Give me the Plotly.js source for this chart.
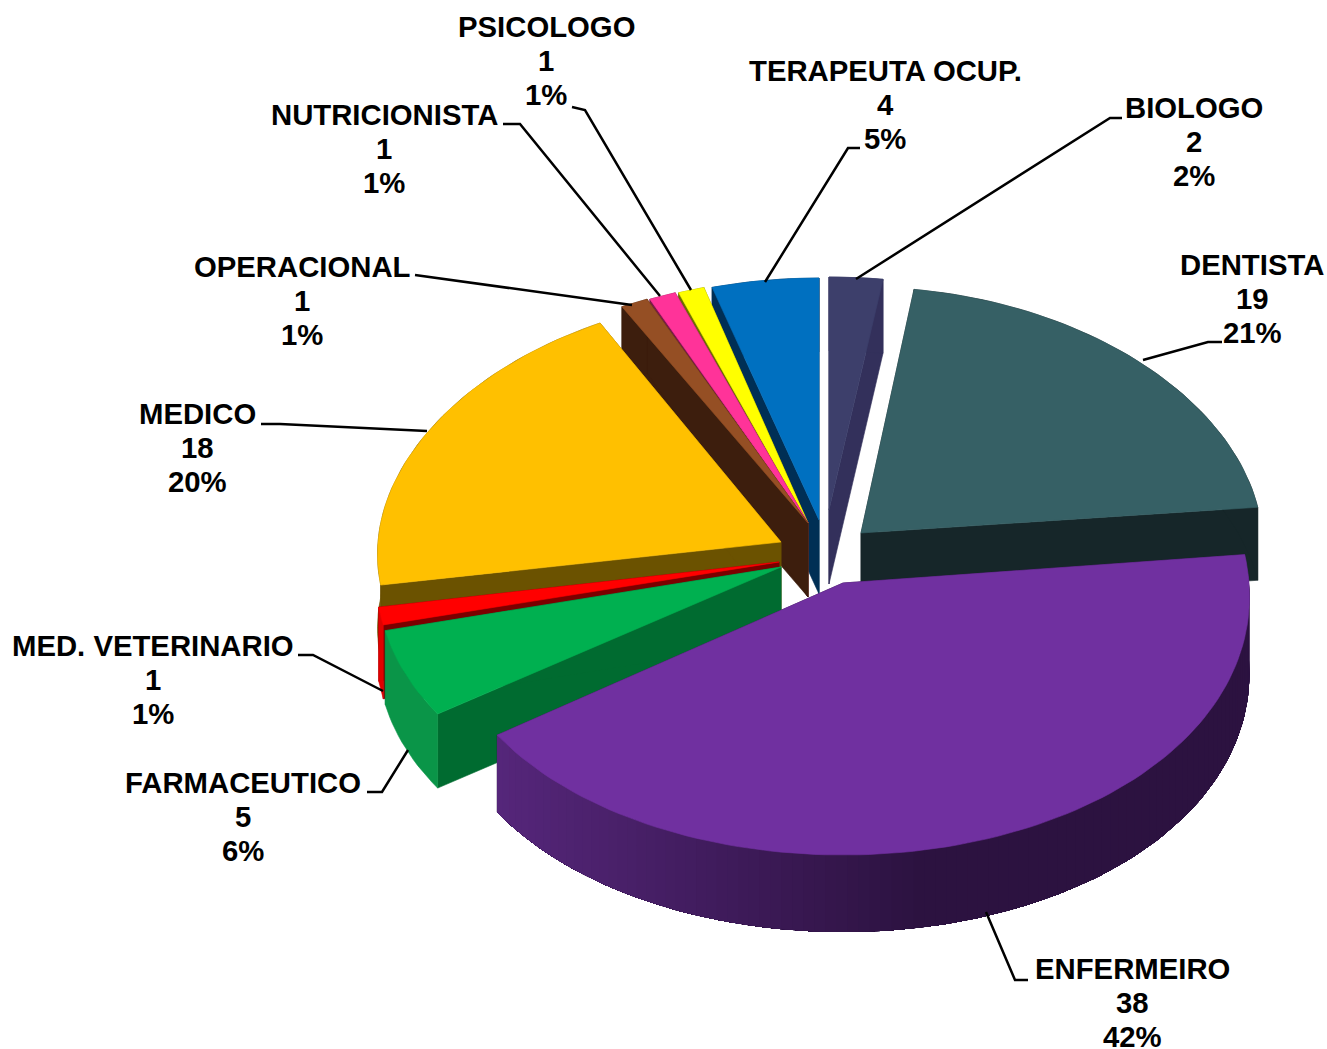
<!DOCTYPE html>
<html>
<head>
<meta charset="utf-8">
<script src="https://cdn.plot.ly/plotly-3.0.1.min.js"></script>
<style>html,body{margin:0;padding:0;background:#fff}</style>
</head>
<body>
<div id="chart" style="width:1327px;height:1049px"></div>
<script>
// ---- data (clockwise from 12 o'clock) ----
const categories = ["BIOLOGO","DENTISTA","ENFERMEIRO","FARMACEUTICO","MED. VETERINARIO","MEDICO","OPERACIONAL","NUTRICIONISTA","PSICOLOGO","TERAPEUTA OCUP."];
const values = [2,19,38,5,1,18,1,1,1,4];
const percents = ["2%","21%","42%","6%","1%","20%","1%","1%","1%","5%"];

// ---- colours ----
const topColors  = ["#3D3F6B","#366065","#7030A0","#00B050","#FF0000","#FFC000","#954F24","#FF3399","#FFFF00","#0070C0"];
const cutColors  = ["#33305B","#162629","#2C1240","#006B30","#7B0000","#6B5200","#3D1E0D","#7A1A4A","#6E6E00","#002F55"];
const wallLeft   = ["#33305B","#162629","#55267A","#0A9548","#E00000","#6B5200","#3D1E0D","#7A1A4A","#6E6E00","#002F55"];
const wallRight  = ["#33305B","#162629","#2C1240","#0A9548","#E00000","#6B5200","#3D1E0D","#7A1A4A","#6E6E00","#002F55"];

// ---- exploded 3-D layout of each slice ----
const apexX = [829,861,843,781,779,781,808,808,808,819];
const apexY = [510,533,583,567,562,542,523,523,523,520];
const radX  = [408,401,406,403,403,403,414,407,397,407];
const radY  = [233,246,272,263,260,248,245,245,245,242];
const depth = [74,73,77,74,74,74,74,74,74,74];
const perspective = 20;
const drawOrder = [0,9,8,7,6,1,5,4,3,2];

// ---- label layout ----
const labelX = [1194,1252,1132,243,153,197,302,384,546,885];
const labelY = [107,264,968,782,645,413,266,114,26,70];
const linePitch = 34;
const leaderX = [[856,1110,1122],[1143,1208,1222],[986,1015,1028],[408,382,367],[383,313,298],[427,280,261],[632,430,415],[660,520,503],[691,585,572],[765,848,860]];
const leaderY = [[279,118,118],[360,342,342],[912,980,980],[750,792,792],[691,655,655],[431,424,424],[305,277,275],[296,124,124],[290,110,107],[282,148,148]];

// ---- geometry from values ----
const total = values.reduce((a,b)=>a+b,0);
const traces = [];
function hex2rgb(h){return [1,3,5].map(i=>parseInt(h.substr(i,2),16));}
function mix(a,b,t){const A=hex2rgb(a),B=hex2rgb(b);return "rgb("+A.map((v,i)=>Math.round(v+(B[i]-v)*t)).join(",")+")";}
function poly(xs,ys,color,w){
  traces.push({type:"scatter",mode:"lines",x:xs.concat(xs[0]),y:ys.concat(ys[0]),fill:"toself",fillcolor:color,
    line:{color:color,width:w===undefined?0.6:w},hoverinfo:"skip",showlegend:false});
}
let start = 0;
const angles = values.map(v=>{const a=[start,start+v/total*360];start=a[1];return a;});

drawOrder.forEach(i=>{
  const [a0,a1]=angles[i], cx=apexX[i], cy=apexY[i], d=depth[i];
  const px=a=>{const r=a*Math.PI/180;return cx+(radX[i]-perspective*Math.cos(r))*Math.sin(r);};
  const py=a=>cy-radY[i]*Math.cos(a*Math.PI/180);
  const steps=Math.max(4,Math.ceil((a1-a0)/1.5));
  const arc=[];for(let k=0;k<=steps;k++)arc.push(a0+(a1-a0)*k/steps);
  // cut faces
  [a0,a1].forEach(a=>poly([cx,px(a),px(a),cx],[cy,py(a),py(a)+d,cy+d],cutColors[i]));
  // outer wall
  if(wallLeft[i]===wallRight[i]){
    const xs=arc.map(px).concat(arc.slice().reverse().map(px));
    const ys=arc.map(py).concat(arc.slice().reverse().map(a=>py(a)+d));
    poly(xs,ys,wallLeft[i]);
  }else{
    // gradient wall: one solid base under it, then bands that each run on to the end of the arc
    for(let k=0;k<steps;k++){
      const sub=arc.slice(k);
      const t=Math.min(1,Math.max(0,(px((arc[k]+arc[k+1])/2)-500)/420));
      const xs=sub.map(px).concat(sub.slice().reverse().map(px));
      const ys=sub.map(py).concat(sub.slice().reverse().map(a=>py(a)+d));
      poly(xs,ys,mix(wallLeft[i],wallRight[i],t),0);
    }
  }
  // top face
  poly([cx].concat(arc.map(px)),[cy].concat(arc.map(py)),topColors[i]);
});

// leader lines
leaderX.forEach((lx,i)=>traces.push({type:"scatter",mode:"lines",x:lx,y:leaderY[i],
  line:{color:"#000",width:2.5},hoverinfo:"skip",showlegend:false}));

// labels
const annotations=[];
categories.forEach((c,i)=>{
  [c,String(values[i]),percents[i]].forEach((t,row)=>annotations.push({
    xref:"x",yref:"y",x:labelX[i],y:labelY[i]+row*linePitch,text:"<b>"+t+"</b>",showarrow:false,
    xanchor:"center",yanchor:"middle",font:{family:"Liberation Sans, Arial, sans-serif",size:29.3,color:"#000"}
  }));
});

Plotly.newPlot("chart",traces,{
  width:1327,height:1049,margin:{l:0,r:0,t:0,b:0},paper_bgcolor:"#fff",plot_bgcolor:"#fff",
  showlegend:false,hovermode:false,
  xaxis:{range:[0,1327],visible:false,fixedrange:true},
  yaxis:{range:[1049,0],visible:false,fixedrange:true},
  annotations:annotations
},{displayModeBar:false,staticPlot:true});
</script>
</body>
</html>
